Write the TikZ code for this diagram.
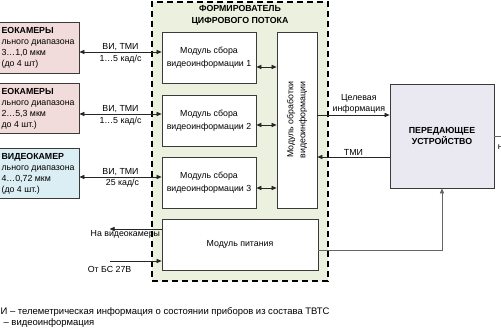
\documentclass[tikz,border=0pt]{standalone}
\usepackage{fontspec}
\setmainfont{Liberation Sans}
\usepackage{xcolor}
\definecolor{campink}{HTML}{F2DCDB}
\definecolor{camblue}{HTML}{DBEEF4}
\definecolor{formgreen}{HTML}{EBF1DE}
\definecolor{txlilac}{HTML}{EAE8F1}
\definecolor{edge}{HTML}{3A3A3A}
\usetikzlibrary{calc,arrows.meta,positioning}

\begin{document}
\begin{tikzpicture}[
		x=0.75pt, y=-0.75pt,
		font=\fontsize{6.6}{8.3}\selectfont,
		box/.style={draw=edge, line width=0.6pt, inner sep=0pt, align=center},
		link/.style={draw=black!85, line width=0.55pt, -{Triangle[length=3.8pt,width=3.2pt]}},
		dlink/.style={link, {Triangle[length=3.8pt,width=3.2pt]}-{Triangle[length=3.8pt,width=3.2pt]}},
		lbl/.style={inner sep=1pt, align=center}
	]
		\useasboundingbox (0,0) rectangle (501,334);
		\clip (0,0) rectangle (501,334);

		\node[draw=black, fill=formgreen, line width=0.8pt, dash pattern=on 4.5pt off 3pt, minimum width=132pt, minimum height=209.25pt] (former) at (240,141.5) {};
		\node[lbl, font=\fontsize{6.6}{9}\selectfont\bfseries] (formtitle) at (240,15) {ФОРМИРОВАТЕЛЬ\\ЦИФРОВОГО ПОТОКА};

		\node[box, fill=campink, minimum width=104.25pt, minimum height=38.25pt] (cam1) at (9.5,47.5) {};
		\node[box, fill=campink, minimum width=104.25pt, minimum height=37pt] (cam2) at (9.5,108.5) {};
		\node[box, fill=camblue, minimum width=104.25pt, minimum height=37pt] (cam3) at (9.5,173.5) {};
		\node[lbl, anchor=west, align=left, font=\fontsize{6.6}{8.25}\selectfont] (cam1txt) at (0,47.5) {\textbf{ЕОКАМЕРЫ}\\льного диапазона\\3…1,0 мкм\\(до 4 шт)};
		\node[lbl, anchor=west, align=left, font=\fontsize{6.6}{8.25}\selectfont] (cam2txt) at (0,108.5) {\textbf{ЕОКАМЕРЫ}\\льного диапазона\\2…5,3 мкм\\до 4 шт.)};
		\node[lbl, anchor=west, align=left, font=\fontsize{6.6}{8.25}\selectfont] (cam3txt) at (0,173.5) {\textbf{ВИДЕОКАМЕР}\\льного диапазона\\4…0,72 мкм\\(до 4 шт.)};

		\node[box, fill=white, minimum width=70.5pt, minimum height=38.25pt, font=\fontsize{6.6}{9.6}\selectfont] (mod1) at (209,57.5) {Модуль сбора\\видеоинформации 1};
		\node[box, fill=white, minimum width=70.5pt, minimum height=38.25pt, font=\fontsize{6.6}{9.6}\selectfont] (mod2) at (209,120.5) {Модуль сбора\\видеоинформации 2};
		\node[box, fill=white, minimum width=70.5pt, minimum height=38.25pt, font=\fontsize{6.6}{9.6}\selectfont] (mod3) at (209,182.5) {Модуль сбора\\видеоинформации 3};
		\node[box, fill=white, minimum width=132pt, minimum height=30pt, rotate=90, font=\fontsize{6.6}{9}\selectfont] (proc) at (297,120) {Модуль обработки\\видеоинформации};
		\node[box, fill=white, minimum width=117pt, minimum height=38.25pt] (power) at (240,244.5) {Модуль питания};
		\node[box, fill=txlilac, minimum width=78pt, minimum height=78pt, font=\fontsize{6.6}{7.6}\selectfont\bfseries] (tx) at (442,136) {ПЕРЕДАЮЩЕЕ\\УСТРОЙСТВО};

		\path (cam1.east) ++(0,4.5) coordinate (v1);
		\path (cam2.east) ++(0,5.5) coordinate (v2);
		\path (cam3.east) ++(0,3.5) coordinate (v3);
		\draw[dlink] (v1) -- (v1 -| mod1.west) node[lbl, midway, above] (v1top) {ВИ, ТМИ} node[lbl, midway, below=1pt] (v1bot) {1…5 кад/с};
		\draw[dlink] (v2) -- (v2 -| mod2.west) node[lbl, midway, above] (v2top) {ВИ, ТМИ} node[lbl, midway, below=1pt] (v2bot) {1…5 кад/с};
		\draw[dlink] (v3) -- (v3 -| mod3.west) node[lbl, midway, above] (v3top) {ВИ, ТМИ} node[lbl, midway, below=0pt, xshift=1.5pt] (v3bot) {25 кад/с};

		\path (mod1.east) ++(0,9.5) coordinate (m1);
		\path (mod2.east) ++(0,4.5) coordinate (m2);
		\path (mod3.east) ++(0,5.5) coordinate (m3);
		\draw[dlink] (m1) -- (m1 -| proc.north);
		\draw[dlink] (m2) -- (m2 -| proc.north);
		\draw[dlink] (m3) -- (m3 -| proc.north);

		\path (proc.south) ++(0,-5) coordinate (p1);
		\path (tx.west) ++(0,21) coordinate (t1);
		\draw[link] (p1) -- (p1 -| tx.west) node[lbl, midway, above, xshift=4pt] (aimtxt) {Целевая\\информация};
		\draw[link] (t1) -- (t1 -| proc.south) node[lbl, midway, above] (tmitxt) {ТМИ};

		\path (power.east) ++(0,5.5) coordinate (w1);
		\draw[link, draw=black!60] (w1) -| (tx.south);
		\draw[draw=black!60, line width=0.55pt] (tx.east) -- ++(12,0) coordinate (txout);
		\node[inner sep=0pt, anchor=west] (txouttxt) at (497.5,147) {н};

		\path (power.west) ++(0,-15.5) coordinate (w2);
		\path (power.west) ++(0,16.5) coordinate (w3);
		\coordinate (bs) at ($(w3)+(-52,0)$);
		\draw[link] (w2) -- ++(-52,0) coordinate (tocams);
		\draw[link] (bs) -- (w3);
		\node[lbl, anchor=north east] (tocamstxt) at (w2) {На видеокамеры};
		\node[lbl, below=3pt] (bstxt) at (bs) {От БС 27В};

		\node[lbl, anchor=west, font=\fontsize{7.1}{8}\selectfont] (noteA) at (-1,312.5) {И – телеметрическая информация о состоянии приборов из состава ТВТС};
		\node[lbl, anchor=west, font=\fontsize{7.1}{8}\selectfont] (noteB) at (2,323) {– видеоинформация};
	\end{tikzpicture}
\end{document}
